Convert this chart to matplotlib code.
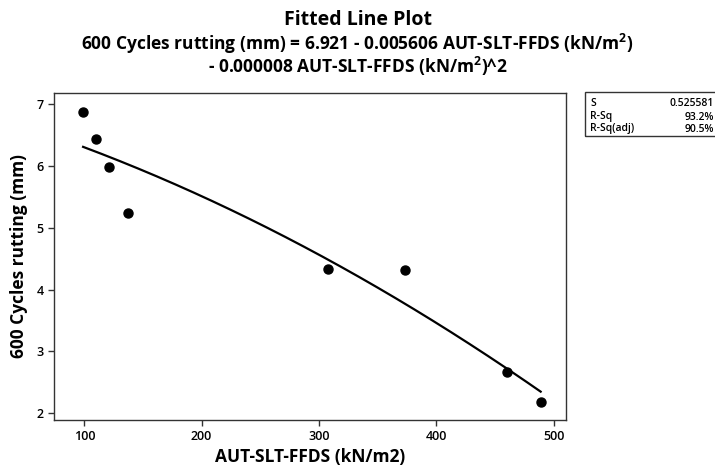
import numpy as np
import matplotlib
matplotlib.use("Agg")
import matplotlib.pyplot as plt
from matplotlib.patches import Rectangle

plt.rcParams['font.family'] = ['Open Sans', 'DejaVu Sans']
plt.rcParams['mathtext.fontset'] = 'custom'
plt.rcParams['mathtext.rm'] = 'Open Sans:bold'
plt.rcParams['mathtext.default'] = 'rm'

# data
ffds = [99, 110, 121, 137.5, 308, 373, 460, 489]        # AUT-SLT-FFDS (kN/m2)
rutting = [6.88, 6.44, 5.98, 5.24, 4.34, 4.31, 2.67, 2.18]  # 600 cycles rutting (mm)
stat_names = ['S', 'R-Sq', 'R-Sq(adj)']
stat_vals = ['0.525581', '93.2%', '90.5%']

# quadratic fit like the original
coef = np.polyfit(ffds, rutting, 2)
xs = np.linspace(min(ffds), max(ffds), 200)
ys = np.polyval(coef, xs)

fig = plt.figure(figsize=(7.15, 4.67), dpi=100)
ax = fig.add_axes([54/715, 1 - 420/467, (566-54)/715, (420-93)/467])

ax.plot(xs, ys, color='black', lw=1.6)
ax.plot(ffds, rutting, 'o', color='black', ms=6.5)

ax.set_xlim(74.2, 510.6)
ax.set_ylim(1.89, 7.18)
ax.set_xticks([100, 200, 300, 400, 500])
ax.set_yticks([2, 3, 4, 5, 6, 7])
ax.tick_params(labelsize=9, length=4, width=1, color='#333333')
for lab in ax.get_xticklabels() + ax.get_yticklabels():
    lab.set_fontweight('semibold')
for s in ax.spines.values():
    s.set_color('#333333')
    s.set_linewidth(1)

ax.set_xlabel('AUT-SLT-FFDS (kN/m2)', fontsize=12.5, fontweight='bold', labelpad=3)
ax.set_ylabel('600 Cycles rutting (mm)', fontsize=12.5, fontweight='bold', labelpad=6)

fig.text(0.5, 1 - 20/467, 'Fitted Line Plot', ha='center', va='center',
         fontsize=14, fontweight='bold')
fig.text(0.5, 1 - 44/467,
         r'600 Cycles rutting (mm) = 6.921 - 0.005606 AUT-SLT-FFDS (kN/m$^{2}$)',
         ha='center', va='center', fontsize=12.5, fontweight='bold')
fig.text(0.5, 1 - 66/467, r'- 0.000008 AUT-SLT-FFDS (kN/m$^{2}$)^2',
         ha='center', va='center', fontsize=12.5, fontweight='bold')

# summary box at the right, cut by the image edge
fig.patches.append(Rectangle((585/715, 1 - 136/467), 150/715, 44/467,
                             transform=fig.transFigure, fill=False,
                             edgecolor='#333333', lw=1))
row_y = [104, 117, 129]
for name, val, y in zip(stat_names, stat_vals, row_y):
    fig.text(590/715, 1 - y/467, name, ha='left', va='center',
             fontsize=7.5, fontweight='semibold')
    fig.text(714/715, 1 - y/467, val, ha='right', va='center',
             fontsize=7.5, fontweight='semibold')

fig.savefig('out.png', dpi=100)
